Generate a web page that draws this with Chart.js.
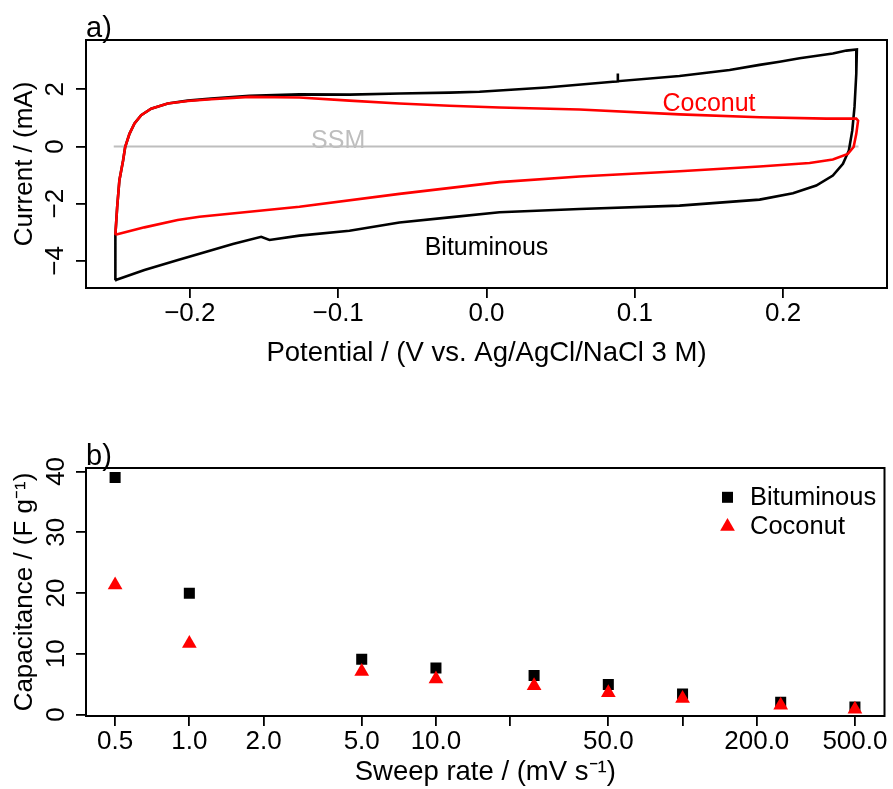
<!DOCTYPE html>
<html>
<head>
<meta charset="utf-8">
<script src="https://cdn.jsdelivr.net/npm/chart.js@4.4.1/dist/chart.umd.min.js"></script>
<style>
  html, body { margin: 0; padding: 0; background: #fff; }
  #wrap { position: relative; width: 893px; height: 789px; }
  #cv  { position: absolute; left: 0; top: 0; }
  #cap { position: absolute; left: 0; top: 400px; }
</style>
</head>
<body>
<div id="wrap">
  <canvas id="cv" width="893" height="400"></canvas>
  <canvas id="cap" width="893" height="389"></canvas>
</div>
<script>
// ---- a) cyclic voltammograms: potential (V) and current (mA) ----
const bituminousPotential = [
  -0.2504, -0.2502, -0.2490, -0.2475, -0.2450, -0.2436, -0.2407, -0.2373, -0.2328, -0.2261,
  -0.2149, -0.2014, -0.1856, -0.1598, -0.1261, -0.0924, -0.0587, -0.0250, -0.0047, 0.0403,
  0.0852, 0.0884, 0.0885, 0.0886, 0.1301, 0.1639, 0.1841, 0.1976, 0.2111, 0.2335,
  0.2426, 0.2497, 0.2493, 0.2481, 0.2466, 0.2443, 0.2403, 0.2335, 0.2223, 0.2066,
  0.1841, 0.1301, 0.0627, 0.0088, -0.0250, -0.0587, -0.0924, -0.1261, -0.1463, -0.1519,
  -0.1710, -0.1935, -0.2080, -0.2306, -0.2504
];
const bituminousCurrent = [
  -4.68, -3.09, -2.13, -1.19, -0.49, -0.02, 0.44, 0.80, 1.09, 1.32,
  1.50, 1.60, 1.67, 1.77, 1.82, 1.81, 1.85, 1.88, 1.91, 2.06,
  2.26, 2.27, 2.55, 2.28, 2.46, 2.67, 2.85, 2.96, 3.08, 3.25,
  3.35, 3.39, 2.55, 1.38, 0.56, -0.14, -0.61, -1.02, -1.37, -1.64,
  -1.86, -2.07, -2.19, -2.30, -2.48, -2.66, -2.95, -3.12, -3.27, -3.16,
  -3.41, -3.75, -3.97, -4.32, -4.68
];
const coconutPotential = [
  -0.2502, -0.2490, -0.2475, -0.2450, -0.2436, -0.2407, -0.2373, -0.2328, -0.2261, -0.2149,
  -0.2014, -0.1856, -0.1598, -0.1261, -0.0924, -0.0587, -0.0250, 0.0088, 0.0627, 0.1301,
  0.1841, 0.2291, 0.2493, 0.2505, 0.2493, 0.2475, 0.2436, 0.2335, 0.2178, 0.1841,
  0.1301, 0.0627, 0.0088, -0.0587, -0.1261, -0.1935, -0.2082, -0.2306, -0.2502
];
const coconutCurrent = [
  -3.09, -2.13, -1.19, -0.49, -0.02, 0.44, 0.80, 1.09, 1.32, 1.50,
  1.59, 1.65, 1.73, 1.71, 1.60, 1.50, 1.42, 1.36, 1.29, 1.12,
  1.02, 0.97, 0.97, 0.90, 0.44, -0.02, -0.26, -0.46, -0.58, -0.70,
  -0.87, -1.05, -1.25, -1.66, -2.11, -2.46, -2.57, -2.83, -3.09
];
const ssmPotential = [-0.2513, 0.2508];
const ssmCurrent = [0, 0];
const potentialTicks = [-0.2, -0.1, 0.0, 0.1, 0.2];
const currentTicks = [-4, -2, 0, 2];

// ---- b) specific capacitance (F/g) against sweep rate (mV/s) ----
const sweepRates = [0.5, 1, 5, 10, 25, 50, 100, 250, 500];
const bituminousCapacitance = [39.0, 19.95, 9.12, 7.68, 6.43, 4.95, 3.38, 2.03, 1.25];
const coconutCapacitance = [21.3, 11.7, 7.1, 5.85, 4.75, 3.6, 2.64, 1.53, 0.87];
const rateTicks = [0.5, 1, 2, 5, 10, 20, 50, 100, 200, 500];
const rateTickLabels = ['0.5', '1.0', '2.0', '5.0', '10.0', '', '50.0', '', '200.0', '500.0'];
const capacitanceTicks = [0, 10, 20, 30, 40];

const FONT = '"Liberation Sans", Arial, Helvetica, sans-serif';
Chart.defaults.font.family = FONT;
Chart.defaults.font.size = 26;
Chart.defaults.color = '#000';

const minus = s => s.replace('-', '\u2212');
const toPoints = (xs, ys) => xs.map((v, i) => ({ x: v, y: ys[i] }));

// closed box around the plotting region, drawn last like R's box()
const frame = {
  id: 'frame',
  afterDraw(chart) {
    const { ctx, chartArea: a } = chart;
    ctx.save();
    ctx.strokeStyle = '#000';
    ctx.lineWidth = 2;
    ctx.strokeRect(a.left, a.top, a.right - a.left, a.bottom - a.top);
    ctx.restore();
  }
};

// panel letters
const panelTag = (text, baseline) => ({
  id: 'panelTag',
  afterDraw(chart) {
    const { ctx, chartArea: a } = chart;
    ctx.save();
    ctx.font = '29px ' + FONT;
    ctx.fillStyle = '#000';
    ctx.textAlign = 'left';
    ctx.textBaseline = 'alphabetic';
    ctx.fillText(text, a.left, baseline);
    ctx.restore();
  }
});

const axisTicks = {
  drawOnChartArea: false, drawTicks: true, tickLength: 10,
  color: '#000', tickColor: '#000', lineWidth: 1.8
};

// curve labels inside panel a (anchored in data units)
const curveLabels = ['SSM', 'Coconut', 'Bituminous'];
const curveLabelPotential = [-0.1, 0.15, 0.0];
const curveLabelCurrent = [0.17, 1.47, -3.55];
const curveLabelColors = ['#bebebe', '#ff0000', '#000000'];
const cvLabels = {
  id: 'cvLabels',
  afterDatasetsDraw(chart) {
    const { ctx, scales: { x, y } } = chart;
    ctx.save();
    ctx.font = '25px ' + FONT;
    ctx.textAlign = 'center';
    ctx.textBaseline = 'middle';
    curveLabels.forEach((t, i) => {
      ctx.fillStyle = curveLabelColors[i];
      ctx.fillText(t, x.getPixelForValue(curveLabelPotential[i]), y.getPixelForValue(curveLabelCurrent[i]));
    });
    ctx.restore();
  }
};

new Chart(document.getElementById('cv'), {
  type: 'scatter',
  data: {
    datasets: [
      { label: 'Coconut', data: toPoints(coconutPotential, coconutCurrent), showLine: true,
        borderColor: '#ff0000', borderWidth: 2.6, pointRadius: 0, order: 0 },
      { label: 'Bituminous', data: toPoints(bituminousPotential, bituminousCurrent), showLine: true,
        borderColor: '#000000', borderWidth: 2.6, pointRadius: 0, order: 1 },
      { label: 'SSM', data: toPoints(ssmPotential, ssmCurrent), showLine: true,
        borderColor: '#bebebe', borderWidth: 2, pointRadius: 0, order: 2 }
    ]
  },
  options: {
    responsive: false, animation: false,
    layout: { padding: { top: 40, right: 6, left: 0, bottom: 0 } },
    plugins: { legend: { display: false }, tooltip: { enabled: false } },
    scales: {
      x: {
        type: 'linear', min: -0.27, max: 0.27,
        afterBuildTicks: s => { s.ticks = potentialTicks.map(v => ({ value: v })); },
        afterFit: s => { s.height = 112; },
        ticks: { callback: v => minus(v.toFixed(1)), padding: 0, maxRotation: 0, autoSkip: false },
        grid: axisTicks, border: { display: false },
        title: { display: true, text: 'Potential / (V vs. Ag/AgCl/NaCl 3 M)', font: { size: 27.5 },
                 padding: { top: 0, bottom: 30 } }
      },
      y: {
        type: 'linear', min: -4.95, max: 3.72,
        afterBuildTicks: s => { s.ticks = currentTicks.map(v => ({ value: v })); },
        afterFit: s => { s.width = 86; },
        ticks: { callback: v => minus(String(v)), minRotation: 90, maxRotation: 90, crossAlign: 'center', padding: 5 },
        grid: axisTicks, border: { display: false },
        title: { display: true, text: 'Current / (mA)', padding: { top: 9, bottom: 0 } }
      }
    }
  },
  plugins: [cvLabels, frame, panelTag('a)', 37)]
});

// legend for panel b
const legendNames = ['Bituminous', 'Coconut'];
const capLegend = {
  id: 'capLegend',
  afterDraw(chart) {
    const { ctx } = chart;
    ctx.save();
    // square marker
    ctx.fillStyle = '#000';
    ctx.fillRect(727.5 - 5.5, 97.3 - 5.5, 11, 11);
    // triangle marker
    const r = 8.5, cx = 727.5, cy = 126.5;
    ctx.fillStyle = '#ff0000';
    ctx.beginPath();
    ctx.moveTo(cx, cy - r);
    ctx.lineTo(cx + r * Math.sqrt(3) / 2, cy + r / 2);
    ctx.lineTo(cx - r * Math.sqrt(3) / 2, cy + r / 2);
    ctx.closePath();
    ctx.fill();
    ctx.fillStyle = '#000';
    ctx.font = '25.5px ' + FONT;
    ctx.textAlign = 'left';
    ctx.textBaseline = 'middle';
    ctx.fillText(legendNames[0], 750, 97.5);
    ctx.fillText(legendNames[1], 750, 127);
    ctx.restore();
  }
};

new Chart(document.getElementById('cap'), {
  type: 'scatter',
  data: {
    datasets: [
      { label: 'Coconut', data: toPoints(sweepRates, coconutCapacitance), pointStyle: 'triangle',
        pointRadius: 8.5, backgroundColor: '#ff0000', borderWidth: 0, order: 0 },
      { label: 'Bituminous', data: toPoints(sweepRates, bituminousCapacitance), pointStyle: 'rect',
        pointRadius: 7.8, backgroundColor: '#000000', borderWidth: 0, order: 1 }
    ]
  },
  options: {
    responsive: false, animation: false,
    layout: { padding: { top: 68, right: 6, left: 0, bottom: 0 } },
    plugins: { legend: { display: false }, tooltip: { enabled: false } },
    scales: {
      x: {
        type: 'logarithmic', min: 0.381, max: 659,
        afterBuildTicks: s => { s.ticks = rateTicks.map(v => ({ value: v })); },
        afterFit: s => { s.height = 73; },
        ticks: { callback: (v, i) => rateTickLabels[i], padding: 0, maxRotation: 0, autoSkip: false },
        grid: axisTicks, border: { display: false },
        title: { display: true, text: 'Sweep rate / (mV s\u207B\u00B9)', font: { size: 27.5 },
                 padding: { top: 0, bottom: 0 } }
      },
      y: {
        type: 'linear', min: -0.23, max: 40.56,
        afterBuildTicks: s => { s.ticks = capacitanceTicks.map(v => ({ value: v })); },
        afterFit: s => { s.width = 86; },
        ticks: { callback: v => String(v), minRotation: 90, maxRotation: 90, crossAlign: 'center', padding: 5 },
        grid: axisTicks, border: { display: false },
        title: { display: true, text: 'Capacitance / (F g\u207B\u00B9)', padding: { top: 9, bottom: 0 } }
      }
    }
  },
  plugins: [capLegend, frame, panelTag('b)', 65)]
});
</script>
</body>
</html>
